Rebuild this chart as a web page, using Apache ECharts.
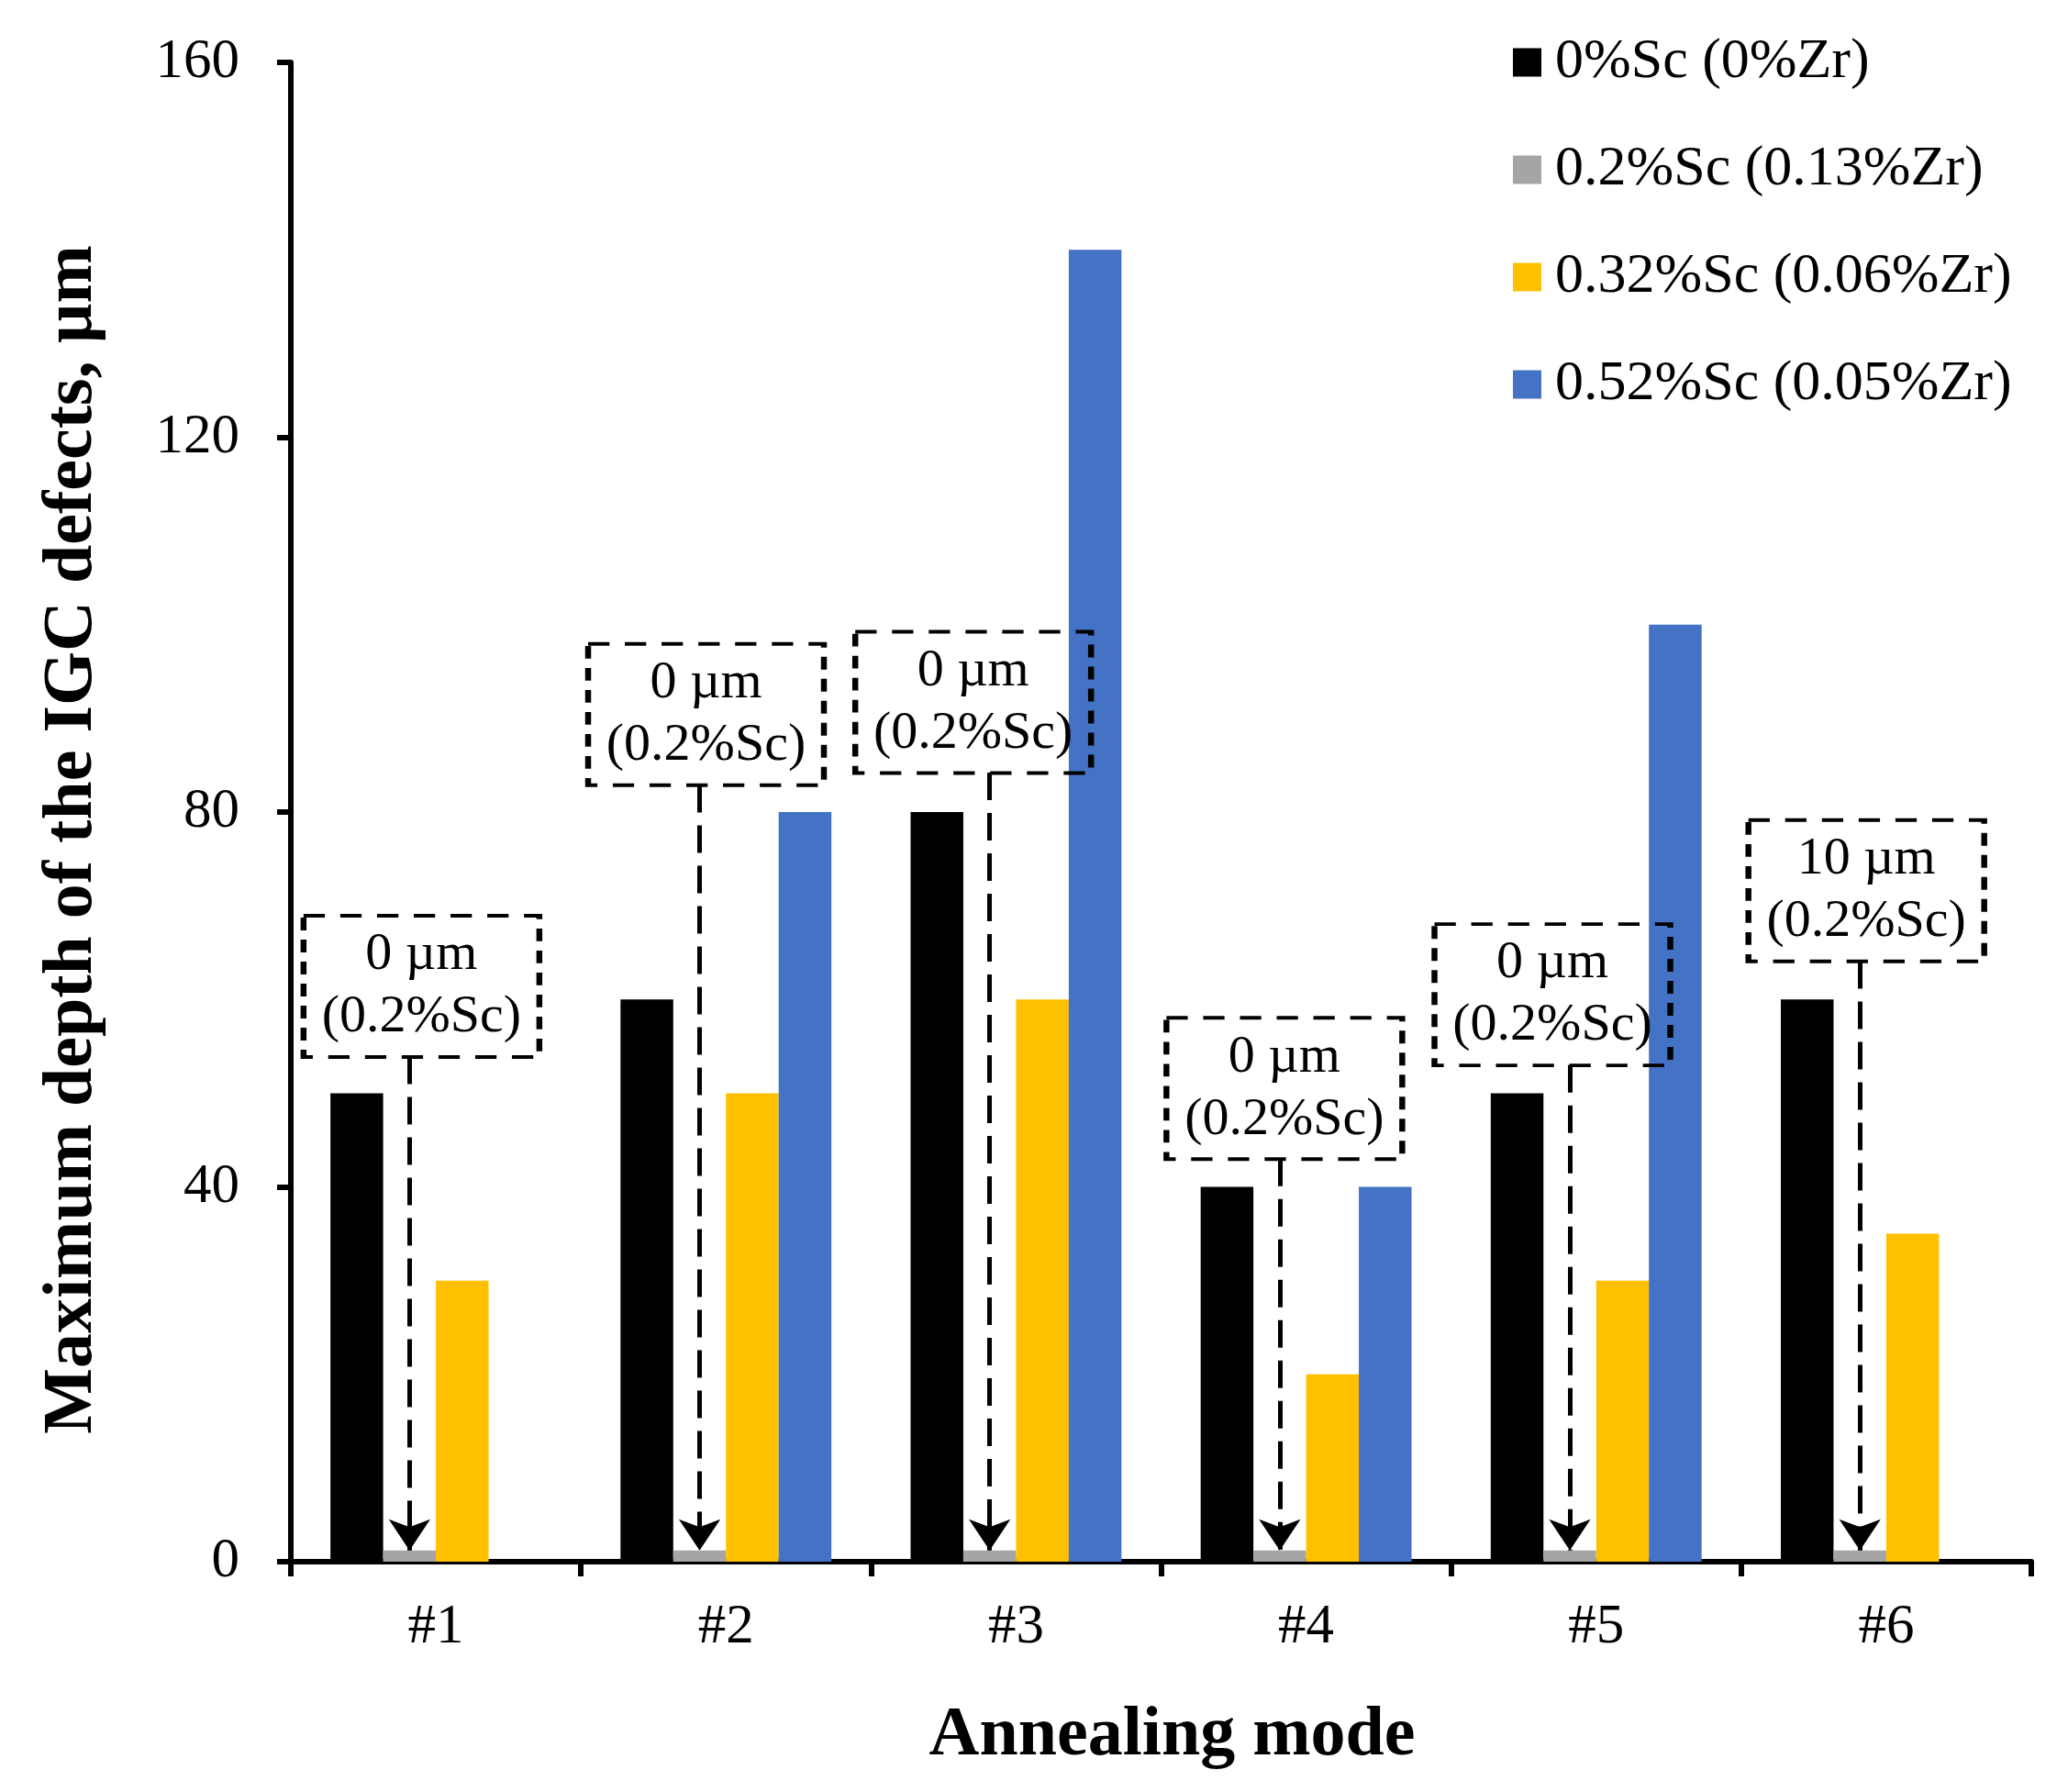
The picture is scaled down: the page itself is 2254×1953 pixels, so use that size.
<!DOCTYPE html>
<html>
<head>
<meta charset="UTF-8">
<title>IGC defects</title>
<script src="https://cdn.jsdelivr.net/npm/echarts@6/dist/echarts.min.js"></script>
<style>
  html, body { margin: 0; padding: 0; background: #fff; }
  #main { width: 2254px; height: 1953px; }
</style>
</head>
<body>
<div id="main"></div>
<script>
// annealing modes
var modes = ['#1', '#2', '#3', '#4', '#5', '#6'];
// max depth of IGC defects, um
var sc0 = [50, 60, 80, 40, 50, 60];
var sc02 = [1.2, 1.2, 1.2, 1.2, 1.2, 1.2];
var sc032 = [30, 50, 60, 20, 30, 35];
var sc052 = [0, 80, 140, 40, 100, 0];
var seriesNames = ['0%Sc (0%Zr)', '0.2%Sc (0.13%Zr)', '0.32%Sc (0.06%Zr)', '0.52%Sc (0.05%Zr)'];
var yTicks = [0, 40, 80, 120, 160];

// callouts for the 0.2%Sc bars
var noteText = ['0 µm', '0 µm', '0 µm', '0 µm', '0 µm', '10 µm'];
var noteSub = '(0.2%Sc)';
// where the dashed boxes sit (axis units) and their sideways nudge in px
var noteY = [61.4, 90.4, 91.7, 50.5, 60.5, 71.6];
var noteNudge = [13, 7, -18, 5, -19, 7];
var boxHalf = 7.5;

var serif = 'Liberation Serif';
var colors = ['#000000', '#a5a5a5', '#ffc000', '#4472c4'];

var myChart = echarts.init(document.getElementById('main'));

var boxes = [];
var arrows = [];
for (var i = 0; i < modes.length; i++) {
    boxes.push({
        name: noteText[i] + '\n' + noteSub,
        coord: [i, noteY[i]],
        symbolOffset: [noteNudge[i], 0]
    });
    arrows.push([
        { coord: [i, noteY[i] - boxHalf] },
        { coord: [i, sc02[i]] }
    ]);
}

function bar(idx, data, extra) {
    var s = {
        name: seriesNames[idx],
        type: 'bar',
        data: data,
        barGap: '0%',
        barCategoryGap: '27.3%',
        itemStyle: { color: colors[idx] },
        emphasis: { disabled: true }
    };
    if (extra) {
        for (var k in extra) s[k] = extra[k];
    }
    return s;
}

var option = {
    animation: false,
    backgroundColor: '#fff',
    textStyle: { fontFamily: serif, color: '#000' },
    grid: { left: 317, right: 40, top: 68, bottom: 251, containLabel: false, outerBoundsMode: 'none' },
    legend: {
        orient: 'vertical',
        left: 1644,
        top: 32,
        itemWidth: 31,
        itemHeight: 31,
        itemGap: 55,
        icon: 'rect',
        selectedMode: false,
        data: seriesNames,
        textStyle: { fontFamily: serif, fontSize: 62, lineHeight: 62, color: '#000', padding: [0, 0, 0, 10] }
    },
    xAxis: {
        type: 'category',
        data: modes,
        name: 'Annealing mode',
        nameLocation: 'middle',
        nameGap: 152,
        nameTextStyle: { fontFamily: serif, fontSize: 76, fontWeight: 'bold', color: '#000', padding: [0, 0, 0, 24] },
        axisLine: { lineStyle: { color: '#000', width: 6 } },
        axisTick: { show: true, interval: 0, length: 16, lineStyle: { color: '#000', width: 6 } },
        axisLabel: { fontFamily: serif, fontSize: 61, color: '#000', margin: 41 }
    },
    yAxis: {
        type: 'value',
        min: yTicks[0],
        max: yTicks[yTicks.length - 1],
        interval: yTicks[1] - yTicks[0],
        name: 'Maximum depth of the IGC defects, µm',
        nameLocation: 'middle',
        nameGap: 200,
        nameTextStyle: { fontFamily: serif, fontSize: 76, fontWeight: 'bold', color: '#000', padding: [0, 60, 0, 0] },
        axisLine: { show: true, lineStyle: { color: '#000', width: 6 } },
        axisTick: { show: true, length: 15, lineStyle: { color: '#000', width: 6 } },
        axisLabel: { fontFamily: serif, fontSize: 61, color: '#000', margin: 56 },
        splitLine: { show: false }
    },
    series: [
        bar(0, sc0),
        bar(1, sc02, {
            markPoint: {
                symbol: 'rect',
                symbolSize: [257, 154],
                silent: true,
                itemStyle: { color: 'transparent', borderColor: '#000', borderWidth: 5, borderType: [18, 13] },
                label: {
                    show: true,
                    position: 'inside',
                    formatter: function (p) { return p.name; },
                    fontFamily: serif,
                    fontSize: 58,
                    lineHeight: 68,
                    color: '#000'
                },
                data: boxes
            },
            markLine: {
                silent: true,
                symbol: ['none', 'arrow'],
                symbolSize: 34,
                label: { show: false },
                lineStyle: { color: '#000', width: 5, type: [30, 14] },
                emphasis: { disabled: true },
                data: arrows
            }
        }),
        bar(2, sc032),
        bar(3, sc052)
    ]
};

myChart.setOption(option);
</script>
</body>
</html>
